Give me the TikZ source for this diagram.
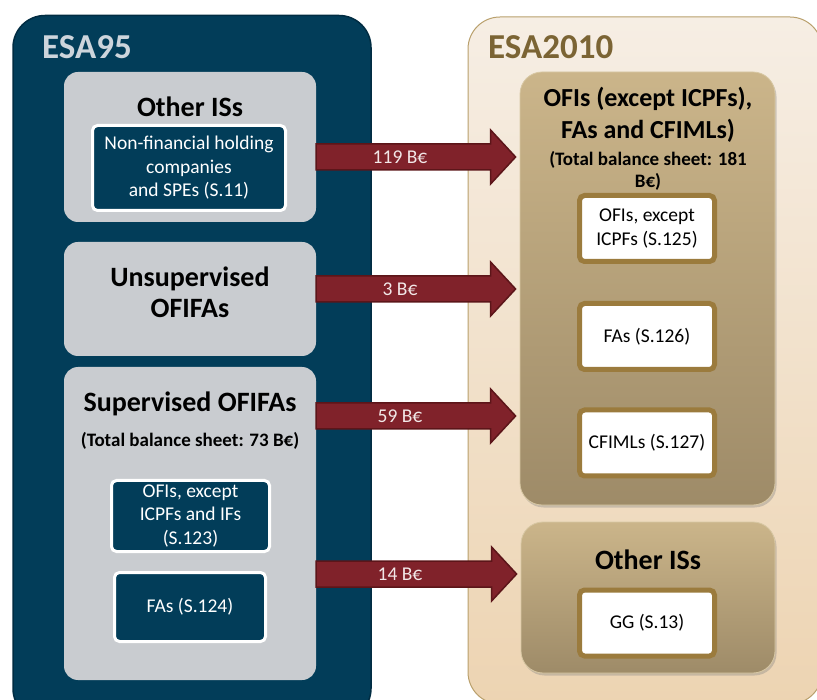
\documentclass[tikz,border=0pt]{standalone}
\usepackage{fontspec}
\setmainfont{Carlito}
\usepackage{tikz}
\usetikzlibrary{positioning, calc, shadows}

\definecolor{esanavy}{HTML}{023D59}
\definecolor{navyedge}{HTML}{012C42}
\definecolor{esagray}{HTML}{C9CCD0}
\definecolor{esalight}{HTML}{CDD5DC}
\definecolor{creamtop}{HTML}{F6EEE4}
\definecolor{creambot}{HTML}{EDD4B2}
\definecolor{creamedge}{HTML}{B9A06C}
\definecolor{tantop}{HTML}{CBB58A}
\definecolor{tanbot}{HTML}{9E8B68}
\definecolor{tanedge}{HTML}{D8C8A4}
\definecolor{tanline}{HTML}{9B7B3D}
\definecolor{esabrown}{HTML}{7B6434}
\definecolor{arrowred}{HTML}{80222A}
\definecolor{arrowedge}{HTML}{5C1519}
\definecolor{lbltext}{HTML}{F2E8E8}

\tikzset{%
  x=1pt, y=-1pt, % one unit per pixel of the slide, y going down
  every node/.style={align=center, inner sep=0pt, font=\fontsize{19.5}{23.5}\selectfont},
  outerleft/.style={fill=esanavy, draw=navyedge, line width=1.5pt, rounded corners=32pt},
  outerright/.style={top color=creamtop, bottom color=creambot, draw=creamedge, line width=1pt, rounded corners=32pt},
  graybox/.style={fill=esagray, rounded corners=14pt},
  navybox/.style={fill=esanavy, draw=white, line width=3pt, rounded corners=5pt, text=white},
  tanbox/.style={top color=tantop, bottom color=tanbot, draw=tanedge, line width=0.8pt, rounded corners=22pt,
    drop shadow={opacity=0.35, shadow xshift=1.5pt, shadow yshift=-2.5pt}},
  whitebox/.style={fill=white, draw=tanline, line width=5pt, rounded corners=5pt,
    minimum width=135pt, minimum height=66pt}, % the small S.12x boxes
  esatitle/.style={font=\fontsize{35}{40}\selectfont\bfseries, anchor=base west},
  boxtitle/.style={font=\fontsize{28}{31}\selectfont\bfseries},
  boxnote/.style={font=\fontsize{19}{22.5}\selectfont\bfseries},
  arrowlbl/.style={text=lbltext},
  fatarrow/.style={fill=arrowred, draw=arrowedge, line width=1.5pt,
    to path={let \p1=(\tikztostart), \p2=(\tikztotarget) in
      (\x1,\y1+13pt) -- (\x2-29pt,\y1+13pt) -- (\x2-29pt,\y1+27pt) -- (\x2-4pt,\y1)
      -- (\x2-29pt,\y1-27pt) -- (\x2-29pt,\y1-13pt) -- (\x1,\y1-13pt) -- cycle}}
}

\begin{document}
\begin{tikzpicture}
  \useasboundingbox (0,0) rectangle (817,700);
  \clip (0,0) rectangle (817,700);

  % ESA95 side
  \node[outerleft, minimum width=358pt, minimum height=705pt] (esa95) at (192,368) {};
  \node[esatitle, text=esalight] (t95) at (42,59) {ESA95};

  \node[graybox, minimum width=252pt, minimum height=150pt] (othl) at (190,147) {};
  \node[boxtitle, anchor=base] (othlt) at (190,117) {Other ISs};
  \node[navybox, minimum width=193pt, minimum height=85pt] (s11) at (189,168) {Non-financial holding\\companies\\and SPEs (S.11)};

  \node[graybox, minimum width=252pt, minimum height=114pt] (unsup) at (190,299) {};
  \node[boxtitle] (unsupt) at (190,292) {Unsupervised\\OFIFAs};

  \node[graybox, minimum width=252pt, minimum height=313pt] (sup) at (190,523.5) {};
  \node[boxtitle, anchor=base] (supt) at (190,412) {Supervised OFIFAs};
  \node[boxnote, anchor=base] (supn) at (190,447) {(Total balance sheet: 73 B€)};
  \node[navybox, minimum width=158pt, minimum height=71pt] (s123) at (190.5,516) {OFIs, except\\ICPFs and IFs\\(S.123)};
  \node[navybox, minimum width=151pt, minimum height=69pt] (s124) at (190,607) {FAs (S.124)};

  % ESA2010 side
  \node[outerright, minimum width=354pt, minimum height=687pt] (esa10) at (645,360.5) {};
  \node[esatitle, text=esabrown] (t10) at (488,59) {ESA2010};

  \node[tanbox, minimum width=255pt, minimum height=433pt] (ofis) at (647.5,288.5) {};
  \node[boxtitle, font=\fontsize{26}{32}\selectfont\bfseries] (ofist) at (648,115) {OFIs (except ICPFs),\\FAs and CFIMLs)};
  \node[boxnote] (ofisn) at (648,171) {(Total balance sheet: 181\\B€)};
  \node[whitebox] (s125) at (647,228.5) {OFIs, except\\ICPFs (S.125)};
  \node[whitebox] (s126) at (647,336.5) {FAs (S.126)};
  \node[whitebox] (s127) at (647,443) {CFIMLs (S.127)};

  \node[tanbox, minimum width=254pt, minimum height=151pt] (othr) at (648,597.5) {};
  \node[boxtitle, anchor=base] (othrt) at (648,569) {Other ISs};
  \node[whitebox] (s13) at (647,623) {GG (S.13)};

  % transfers
  \coordinate (a1) at (400,157);
  \coordinate (a2) at (400,289);
  \coordinate (a3) at (400,416);
  \coordinate (a4) at (400,574);
  \path[fatarrow] (othl.east |- a1) to (ofis.west |- a1);
  \path[fatarrow] (unsup.east |- a2) to (ofis.west |- a2);
  \path[fatarrow] (sup.east |- a3) to (ofis.west |- a3);
  \path[fatarrow] (sup.east |- a4) to (othr.west |- a4);
  \node[arrowlbl] (l1) at (a1) {119 B€};
  \node[arrowlbl] (l2) at (a2) {3 B€};
  \node[arrowlbl] (l3) at (a3) {59 B€};
  \node[arrowlbl] (l4) at (a4) {14 B€};
\end{tikzpicture}
\end{document}
